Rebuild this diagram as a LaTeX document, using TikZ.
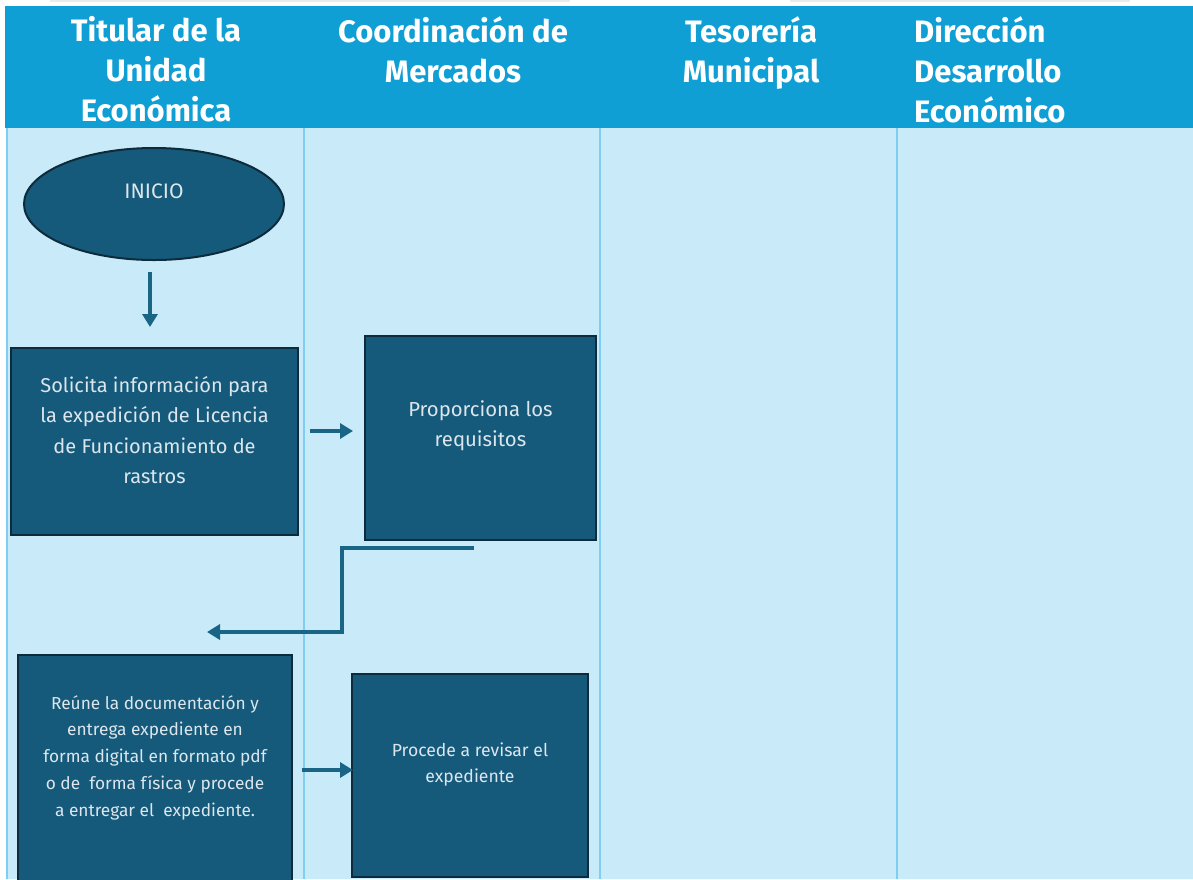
\documentclass[tikz,border=0pt]{standalone}
\usepackage{fontspec}
\setmainfont{Fira Sans}
\usetikzlibrary{shapes.geometric,arrows.meta}
\definecolor{hdr}{HTML}{109FD4}
\definecolor{body}{HTML}{C8EAF9}
\definecolor{lanel}{HTML}{7FCDF0}
\definecolor{boxc}{HTML}{155A7B}
\definecolor{boxb}{HTML}{0D2B3A}
\definecolor{conn}{HTML}{1A6585}
\definecolor{btxt}{HTML}{DCE6EC}
\tikzset{
  hdrtxt/.style={text=white, font=\fontsize{31}{40}\selectfont\bfseries, inner sep=0pt, align=center},
  procbox/.style={draw=boxb, line width=2pt, fill=boxc, rectangle, inner sep=0pt},
  boxtxt/.style={text=btxt, inner sep=0pt, align=center},
  conarrow/.style={draw=conn, line width=3.5pt, -{Triangle[length=13pt,width=15pt]}},
}
\begin{document}
\begin{tikzpicture}[x=1pt,y=-1pt]
\useasboundingbox (0,0) rectangle (1193,879);
\fill[white] (0,0) rectangle (1193,879);
\fill[black!8] (50,0) rectangle (570,2);
\fill[black!8] (790,0) rectangle (1130,2);
% header and body
\fill[hdr] (5,6) rectangle (1193,128);
\fill[body] (7,128) rectangle (1193,879);
\draw[lanel, line width=1.2pt] (7,128) -- (7,879);
\draw[lanel, line width=1.2pt] (304,128) -- (304,879);
\draw[lanel, line width=1.2pt] (600,128) -- (600,879);
\draw[lanel, line width=1.2pt] (897,128) -- (897,879);
% header texts
\node[hdrtxt, anchor=north] (h1) at (156,16) {Titular de la\\Unidad\\Económica};
\node[hdrtxt, anchor=north] (h2) at (453,16) {Coordinación de\\Mercados};
\node[hdrtxt, anchor=north] (h3) at (751,16) {Tesorería\\Municipal};
\node[hdrtxt, anchor=north west, align=left] (h4) at (914,16) {Dirección\\Desarrollo\\Económico};
% start
\node[draw=boxb, line width=2pt, fill=boxc, ellipse, minimum width=260pt, minimum height=112pt, inner sep=0pt] (ini) at (154,204) {};
\node[boxtxt, font=\fontsize{21}{22}\selectfont] (init) at (154,191) {INICIO};
% boxes
\node[procbox, minimum width=287pt, minimum height=187pt] (b1) at (154.5,441.5) {};
\node[boxtxt, font=\fontsize{20}{30.3}\selectfont] (b1t) at (154.5,430) {Solicita información para\\la expedición de Licencia\\de Funcionamiento de\\rastros};
\node[procbox, minimum width=231pt, minimum height=204pt] (b2) at (480.5,438) {};
\node[boxtxt, font=\fontsize{20.3}{30.3}\selectfont] (b2t) at (480.5,426) {Proporciona los\\requisitos};
\node[procbox, minimum width=274pt, minimum height=240pt] (b3) at (155,775) {};
\node[boxtxt, font=\fontsize{17.3}{26.8}\selectfont] (b3t) at (155,757.5) {Reúne la documentación y\\entrega expediente en\\forma digital en formato pdf\\o de \ forma física y procede\\a entregar el \ expediente.};
\node[procbox, minimum width=236pt, minimum height=203pt] (b4) at (470,775.5) {};
\node[boxtxt, font=\fontsize{17.6}{26.8}\selectfont] (b4t) at (470,764.5) {Procede a revisar el\\expediente};
% connectors
\coordinate (a1s) at (150,272);
\coordinate (a1e) at (150,327);
\draw[conarrow] (a1s) -- (a1e);
\coordinate (a2s) at (310,431);
\coordinate (a2e) at (353,431);
\draw[conarrow] (a2s) -- (a2e);
\coordinate (c1) at (474,548);
\coordinate (c2) at (342,632);
\coordinate (c3) at (207,632);
\draw[conarrow] (c1) -| (c2) -- (c3);
\coordinate (a3s) at (302,770);
\coordinate (a3e) at (353,770);
\draw[conarrow] (a3s) -- (a3e);
\end{tikzpicture}
\end{document}
